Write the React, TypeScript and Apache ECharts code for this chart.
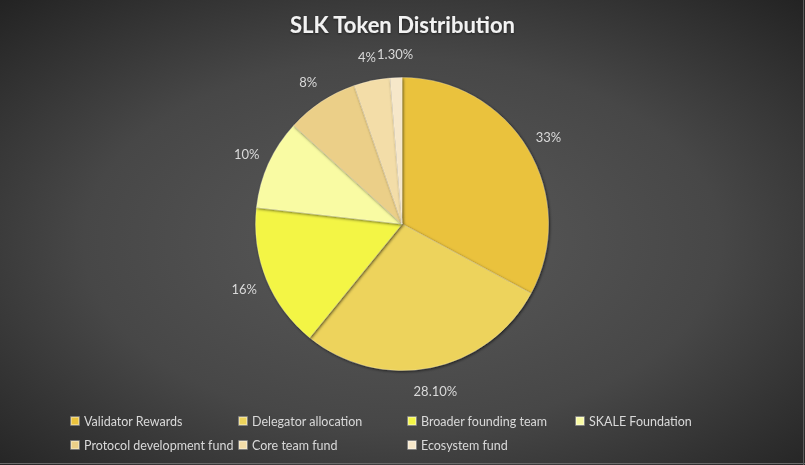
import React, { useEffect, useRef } from "react";
import * as echarts from "echarts";

const categories = [
  "Validator Rewards",
  "Delegator allocation",
  "Broader founding team",
  "SKALE Foundation",
  "Protocol development fund",
  "Core team fund",
  "Ecosystem fund",
];
const values = [33, 28.1, 16, 10, 8, 4, 1.3];
const labelTexts = ["33%", "28.10%", "16%", "10%", "8%", "4%", "1.30%"];
const colors = ["#EAC23C", "#EDD35B", "#F3F545", "#F9FBA3", "#EBCF88", "#F3DDA8", "#F6E7C9"];
const legendColumns = [
  ["Validator Rewards", "Protocol development fund"],
  ["Delegator allocation", "Core team fund"],
  ["Broader founding team", "Ecosystem fund"],
  ["SKALE Foundation"],
];
const legendLefts = [70, 238, 407, 575];

export default function App() {
  const ref = useRef<HTMLDivElement>(null);
  useEffect(() => {
    document.body.style.margin = "0";
    const chart = echarts.init(ref.current!, null, { renderer: "svg" });
    const center = [402, 224];
    chart.setOption({
      animation: false,
      backgroundColor: new echarts.graphic.RadialGradient(0.5, 0.52, 0.72, [
        { offset: 0, color: "#5a5a5a" },
        { offset: 0.55, color: "#474747" },
        { offset: 1, color: "#232323" },
      ]),
      title: {
        text: "SLK Token Distribution",
        left: "center",
        top: 8,
        textStyle: {
          color: "#f2f2f2",
          fontFamily: "Lato",
          fontWeight: "bold",
          fontSize: 22,
          textShadowColor: "rgba(0,0,0,0.5)",
          textShadowBlur: 2,
          textShadowOffsetY: 1,
        },
      },
      legend: legendColumns.map((col, i) => ({
        data: col,
        orient: "vertical",
        left: legendLefts[i],
        top: 414,
        padding: 0,
        itemWidth: 8,
        itemHeight: 8,
        itemGap: 10,
        icon: "rect",
        selectedMode: false,
        textStyle: { color: "#d9d9d9", fontFamily: "Lato", fontSize: 12.5, lineHeight: 14 },
      })),
      graphic: [
        { type: "line", shape: { x1: 0, y1: 463.5, x2: 805, y2: 463.5 }, style: { stroke: "#6a6a6a", lineWidth: 1 } },
        { type: "line", shape: { x1: 803.5, y1: 0, x2: 803.5, y2: 465 }, style: { stroke: "#5a5a5a", lineWidth: 1 } },
      ],
      series: [
        {
          type: "pie",
          center,
          radius: 146.5,
          startAngle: 90,
          clockwise: true,
          silent: true,
          label: { show: false },
          labelLine: { show: false },
          itemStyle: {
            borderColor: "rgba(255,255,255,0.35)",
            borderWidth: 0.6,
            shadowBlur: 3,
            shadowColor: "rgba(0,0,0,0.65)",
            shadowOffsetX: 1,
            shadowOffsetY: 1,
          },
          data: categories.map((name, i) => ({
            name,
            value: values[i],
            itemStyle: { color: colors[i] },
          })),
        },
        {
          type: "pie",
          center,
          radius: [160, 175],
          startAngle: 90,
          clockwise: true,
          silent: true,
          itemStyle: { color: "rgba(0,0,0,0)", borderWidth: 0 },
          label: {
            show: true,
            position: "inside",
            color: "#d9d9d9",
            fontFamily: "Lato",
            fontSize: 13,
            formatter: (p: any) => labelTexts[p.dataIndex],
          },
          labelLine: { show: false },
          emphasis: { disabled: true },
          data: categories.map((_, i) => ({ name: "lbl" + i, value: values[i] })),
        },
      ],
    });
    return () => chart.dispose();
  }, []);
  return <div ref={ref} style={{ position: "fixed", left: 0, top: 0, width: 805, height: 465 }} />;
}
